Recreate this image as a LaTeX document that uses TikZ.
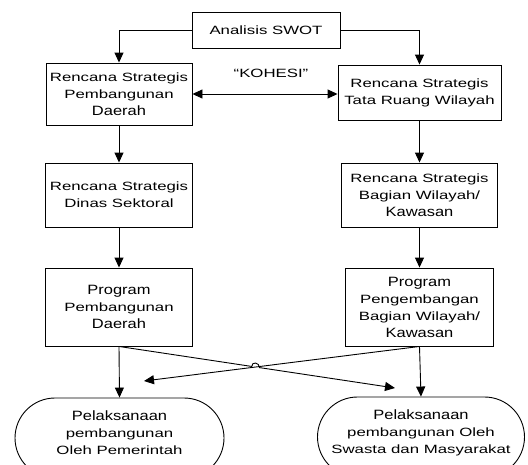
\documentclass[tikz,border=0pt]{standalone}
\usepackage{fontspec}
\setmainfont{Liberation Sans}[FakeStretch=1.4]
\newfontfamily\bigf{Liberation Sans}[FakeStretch=1.22]
\usetikzlibrary{arrows.meta,calc}
\newcommand{\bw}[1]{{\bigf\fontsize{13.5}{17}\selectfont #1}}
\begin{document}
\begin{tikzpicture}[x=1pt,y=-1pt,
  box/.style={draw, line width=0.9pt, inner sep=0pt, align=center, font=\fontsize{12}{17}\selectfont},
  txt/.style={inner sep=0pt, align=center, font=\fontsize{12}{17}\selectfont},
  stad/.style={draw, line width=0.9pt, rounded corners=40pt, inner sep=0pt, minimum width=#1, minimum height=80pt},
  arr/.style={line width=0.9pt, -{Triangle[length=10pt,width=9pt]}},
  darr/.style={line width=0.9pt, {Triangle[length=10pt,width=9pt]}-{Triangle[length=10pt,width=9pt]}},
  ln/.style={line width=0.9pt}]
\useasboundingbox (0,0) rectangle (528,464);
\clip (0,0) rectangle (528,464);
\node[box, minimum width=148pt, minimum height=36pt] (swot) at (266,30) {Analisis SWOT};
\node[box, minimum width=146pt, minimum height=62pt] (L1) at (119,94) {Rencana Strategis\\Pembangunan\\\bw{Daerah}};
\node[box, minimum width=163pt, minimum height=55pt] (R1) at (419.5,92.5) {Rencana Strategis\\Tata Ruang Wilayah};
\node[txt] (koh) at (271,73) {“KOHESI”};
\node[box, minimum width=147pt, minimum height=64pt] (L2) at (119,195) {Rencana Strategis\\Dinas Sektoral};
\node[box, minimum width=156pt, minimum height=64pt] (R2) at (419.5,195) {Rencana Strategis\\Bagian Wilayah/\\\bw{Kawasan}};
\node[box, minimum width=147pt, minimum height=78pt] (L3) at (119,307) {\bw{Program}\\Pembangunan\\\bw{Daerah}};
\node[box, minimum width=148pt, minimum height=78pt] (R3) at (419.5,307) {\bw{Program}\\Pengembangan\\Bagian Wilayah/\\\bw{Kawasan}};
\node[stad=209pt] (EL) at (119.5,438) {};
\node[stad=207pt] (ER) at (421,437) {};
\node[txt] (ELt) at (119.5,433) {\bw{Pelaksanaan}\\pembangunan\\Oleh Pemerintah};
\node[txt] (ERt) at (421,433) {\bw{Pelaksanaan}\\pembangunan Oleh\\Swasta dan Masyarakat};
\coordinate (tA) at (395,388);
\coordinate (tB) at (144,381);
\draw[arr] (swot.west) -| (L1.north);
\draw[arr] (swot.east) -| (R1.north);
\draw[darr] (L1.east) -- (L1.east -| R1.west);
\draw[arr] (L1.south) -- (L2.north);
\draw[arr] (R1.south) -- (R2.north);
\draw[arr] (L2.south) -- (L3.north);
\draw[arr] (R2.south) -- (R3.north);
\draw[arr] (L3.south) -- (EL.north);
\draw[arr] (R3.south) -- (ER.north);
\draw[arr] (R3.south) -- (tB);
\draw[arr] (L3.south) -- ($(L3.south)!0.481!(tA)$) .. controls +(0,-5.3) and +(0,-5.3) .. ($(L3.south)!0.509!(tA)$) -- (tA);
\end{tikzpicture}
\end{document}
